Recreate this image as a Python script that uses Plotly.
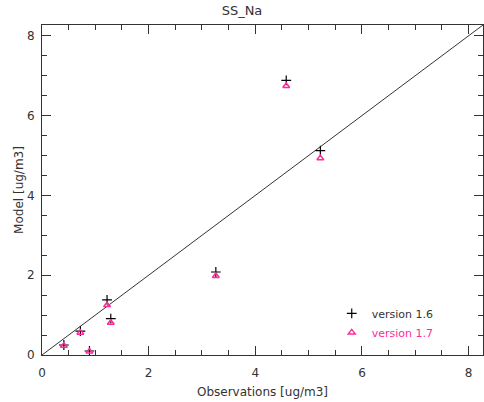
import plotly.graph_objects as go

# Observed vs modelled sea-salt sodium concentrations [ug/m3]
observations = [0.41, 0.72, 0.89, 1.22, 1.29, 3.26, 4.58, 5.22]
model_v16 = [0.25, 0.60, 0.10, 1.38, 0.91, 2.08, 6.88, 5.12]
model_v17 = [0.23, 0.56, 0.09, 1.25, 0.81, 1.98, 6.74, 4.93]
one_to_one = [0, 10]

axis_max = 8.27
tick_vals = [0, 2, 4, 6, 8]
tick_text = ["0", "2", "4", "6", "8"]
pink = "#ff2a9a"
font = dict(family="DejaVu Sans, Verdana, sans-serif", size=12, color="#333333")

fig = go.Figure()
fig.add_trace(go.Scatter(
    x=one_to_one, y=one_to_one, mode="lines",
    line=dict(color="#333333", width=1), showlegend=False, hoverinfo="skip"))
fig.add_trace(go.Scatter(
    x=observations, y=model_v16, mode="markers", name="version 1.6",
    marker=dict(symbol="cross-thin-open", size=7, color="black",
                line=dict(color="black", width=1.2))))
fig.add_trace(go.Scatter(
    x=observations, y=model_v17, mode="markers",
    name="<span style='color:%s'>version 1.7</span>" % pink,
    marker=dict(symbol="triangle-up-open", size=6, color=pink,
                line=dict(color=pink, width=1.5))))

def axis(title, standoff, title_standoff):
    return dict(
        range=[0, axis_max], tickvals=tick_vals, ticktext=tick_text,
        ticks="inside", ticklen=9, tickwidth=1, tickcolor="#333333",
        minor=dict(dtick=0.5, tick0=0, ticks="inside", ticklen=5,
                   tickwidth=1, tickcolor="#333333"),
        showline=True, linecolor="#333333", linewidth=1, mirror="ticks",
        showgrid=False, zeroline=False, ticklabelstandoff=standoff,
        title=dict(text=title, font=font, standoff=title_standoff),
        tickfont=font,
    )

fig.update_layout(
    width=484, height=402,
    margin=dict(l=42, r=1, t=25, b=47),
    paper_bgcolor="white", plot_bgcolor="white",
    title=dict(text="SS_Na", x=0.5, xanchor="center", y=0.985, yanchor="top",
               font=dict(family=font["family"], size=13, color="#333333")),
    xaxis=axis("Observations [ug/m3]", 7, 8),
    yaxis=axis("Model [ug/m3]", 4, 0),
    legend=dict(x=0.657, y=0.17, xanchor="left", yanchor="top",
                bgcolor="rgba(0,0,0,0)", font=dict(family=font["family"], size=11, color="#333333"),
                tracegroupgap=0, itemwidth=30),
    showlegend=True,
)

fig.write_html("out.html")
